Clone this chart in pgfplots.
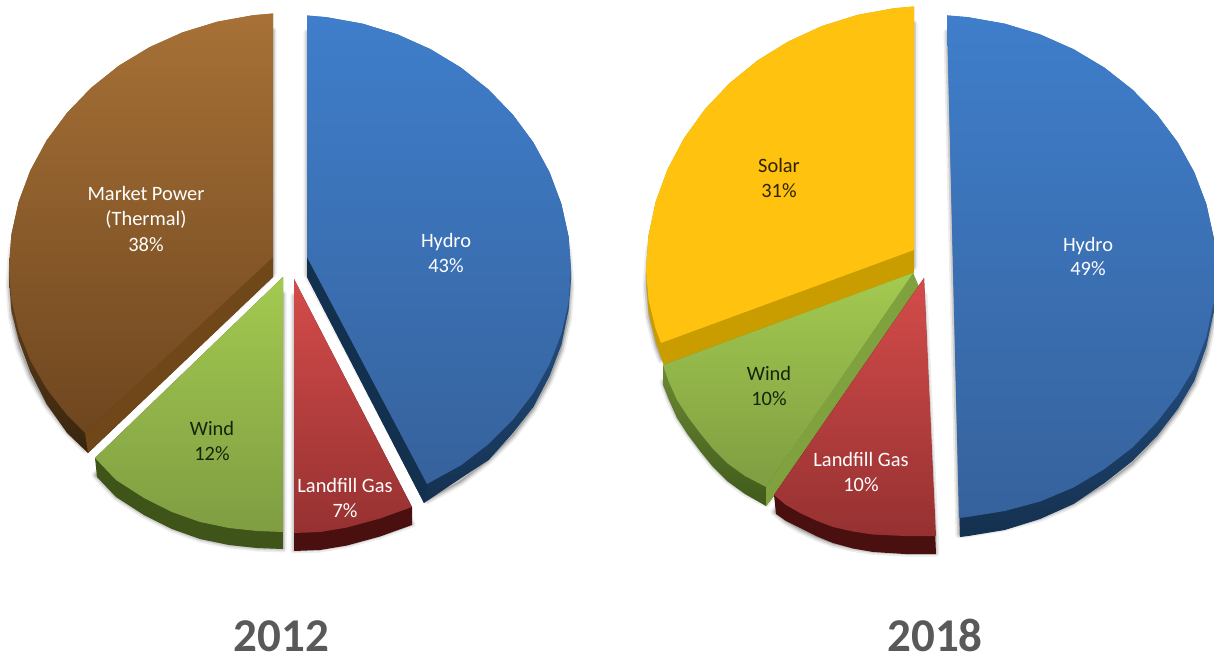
\documentclass[border=0pt]{standalone}
\usepackage{fontspec}
\setmainfont{Carlito}
\usepackage{pgfplots}
\usepackage{pgfplotstable}
\pgfplotsset{compat=1.18}

% colours
\definecolor{bluetop}{HTML}{3F7ECB}
\definecolor{bluebot}{HTML}{36629C}
\definecolor{bluemid}{HTML}{16335A}
\definecolor{bluedark}{HTML}{14304F}
\definecolor{browntop}{HTML}{A77136}
\definecolor{brownbot}{HTML}{6E461F}
\definecolor{brownmid}{HTML}{5F3D17}
\definecolor{brownside}{HTML}{6F4718}
\definecolor{browndark}{HTML}{38240E}
\definecolor{greentop}{HTML}{A3CA50}
\definecolor{greenbot}{HTML}{7F9D42}
\definecolor{greendark}{HTML}{3E5418}
\definecolor{redtop}{HTML}{D44C4A}
\definecolor{redbot}{HTML}{963131}
\definecolor{reddark}{HTML}{4A0F0F}
\definecolor{solar}{HTML}{FFC20E}
\definecolor{solarside}{HTML}{C99C00}
\definecolor{windside}{HTML}{7FA23F}
\definecolor{windup}{HTML}{8AA844}
\definecolor{winddown}{HTML}{3F5A1A}
\definecolor{titlegray}{HTML}{595959}
\definecolor{darkgreentext}{HTML}{16240A}
\definecolor{darksolartext}{HTML}{2E2400}

% slice outlines in picture pixels: face = top surface, body = whole silhouette
\pgfplotstableread[row sep=\\]{x y\\ 307 15.5\\ 326.7 17.2\\ 362.7 23.7\\ 397.5 34.4\\ 430.5 49.2\\ 461.1 67.7\\ 488.7 89.7\\ 512.9 114.8\\ 533.4 142.5\\ 549.6 172.4\\ 561.4 204\\ 568.6 236.7\\ 571 270\\ 568.6 302.1\\ 561.4 333.7\\ 549.6 364.1\\ 533.4 393\\ 512.9 419.8\\ 488.7 444\\ 461.1 465.2\\ 427 484\\ 307 257\\}\hydroAface
\pgfplotstableread[row sep=\\]{x y\\ 307 15.5\\ 326.7 17.2\\ 362.7 23.7\\ 397.5 34.4\\ 430.5 49.2\\ 461.1 67.7\\ 488.7 89.7\\ 512.9 114.8\\ 533.4 142.5\\ 549.6 172.4\\ 561.4 204\\ 568.6 236.7\\ 571 270\\ 571 280\\ 568.6 310\\ 561.4 345\\ 549.6 376\\ 533.4 407\\ 512.9 433\\ 488.7 460\\ 461.1 478\\ 424 503\\ 307 277\\}\hydroAbody
\pgfplotstableread[row sep=\\]{x y\\ 307 257\\ 427 484\\ 424 503\\ 307 277\\}\hydroAside

\pgfplotstableread[row sep=\\]{x y\\ 273 13.5\\ 253.3 15.2\\ 217.3 21.7\\ 182.5 32.4\\ 149.5 47.2\\ 118.9 65.7\\ 91.3 87.7\\ 67.1 112.8\\ 46.6 140.5\\ 30.4 170.4\\ 18.6 202\\ 11.4 234.7\\ 9 268\\ 11.4 299.5\\ 18.6 330.5\\ 30.4 360.5\\ 46.6 388.8\\ 67.1 415\\ 85 433\\ 273 257\\}\thermAface
\pgfplotstableread[row sep=\\]{x y\\ 273 13.5\\ 253.3 15.2\\ 217.3 21.7\\ 182.5 32.4\\ 149.5 47.2\\ 118.9 65.7\\ 91.3 87.7\\ 67.1 112.8\\ 46.6 140.5\\ 30.4 170.4\\ 18.6 202\\ 11.4 234.7\\ 9 268\\ 9.5 285\\ 11.4 311\\ 18.6 340\\ 30.4 372\\ 46.6 404\\ 67.1 433\\ 88 453\\ 273 277\\}\thermAbody
\pgfplotstableread[row sep=\\]{x y\\ 273 257\\ 85 433\\ 88 453\\ 273 277\\}\thermAside

\pgfplotstableread[row sep=\\]{x y\\ 283 277\\ 95 458\\ 116 480\\ 144 498\\ 172 512\\ 200 522\\ 229 528\\ 257 531\\ 283 532\\}\windAface
\pgfplotstableread[row sep=\\]{x y\\ 283 277\\ 95 458\\ 97 477\\ 116 497\\ 144 515\\ 172 529\\ 200 539\\ 229 545\\ 257 548\\ 283 549\\}\windAbody

\pgfplotstableread[row sep=\\]{x y\\ 294 279\\ 412 507\\ 380 518.5\\ 347 527.5\\ 320 532\\ 294 533\\}\gasAface
\pgfplotstableread[row sep=\\]{x y\\ 294 279\\ 412 507\\ 412 525\\ 380 536.5\\ 347 545.5\\ 320 550\\ 294 551\\}\gasAbody

\pgfplotstableread[row sep=\\]{x y\\ 914 6.5\\ 893.8 8.3\\ 857.2 15\\ 821.9 26.1\\ 788.5 41.4\\ 757.5 60.5\\ 729.5 83.3\\ 704.9 109.3\\ 684.2 138\\ 667.7 169\\ 655.7 201.7\\ 648.5 235.5\\ 646 270\\ 648.5 299.8\\ 655.7 329\\ 661 343\\ 914 250\\}\solarBface
\pgfplotstableread[row sep=\\]{x y\\ 914 6.5\\ 893.8 8.3\\ 857.2 15\\ 821.9 26.1\\ 788.5 41.4\\ 757.5 60.5\\ 729.5 83.3\\ 704.9 109.3\\ 684.2 138\\ 667.7 169\\ 655.7 201.7\\ 648.5 235.5\\ 646 270\\ 646.5 285\\ 648.5 312\\ 655.7 342\\ 664 366\\ 914 273\\}\solarBbody
\pgfplotstableread[row sep=\\]{x y\\ 914 250\\ 661 343\\ 664 366\\ 914 273\\}\solarBside

\pgfplotstableread[row sep=\\]{x y\\ 913 273\\ 663 365\\ 668.5 381\\ 677 400\\ 688 417\\ 700 433\\ 713 449\\ 727 463\\ 745 476\\ 766 487\\}\windBface
\pgfplotstableread[row sep=\\]{x y\\ 913 273\\ 663 365\\ 663 385\\ 668.5 399\\ 677 418\\ 688 435\\ 700 451\\ 713 467\\ 727 481\\ 745 494\\ 766 506\\ 777 492\\ 919 287\\}\windBbody
\pgfplotstableread[row sep=\\]{x y\\ 913 273\\ 766 487\\ 766 506\\ 777 492\\ 919 287\\}\windBside

\pgfplotstableread[row sep=\\]{x y\\ 924 278\\ 774 495\\ 786 505\\ 800 513\\ 816 520.5\\ 833 527\\ 853 531.5\\ 873 534.5\\ 905 536\\ 936 536\\}\gasBface
\pgfplotstableread[row sep=\\]{x y\\ 924 278\\ 774 495\\ 776 514\\ 786 521\\ 800 528\\ 816 536\\ 833 543\\ 853 548.5\\ 873 552\\ 905 554\\ 936 554\\}\gasBbody

\pgfplotstableread[row sep=\\]{x y\\ 947 15.4\\ 968.2 17.2\\ 1004.8 23.7\\ 1040.1 34.4\\ 1073.5 49.2\\ 1104.5 67.7\\ 1132.5 89.7\\ 1157.1 114.8\\ 1177.8 142.5\\ 1194.3 172.4\\ 1206.3 204\\ 1213.5 236.7\\ 1216 270\\ 1213.5 303\\ 1206.3 337\\ 1194.3 368\\ 1177.8 395\\ 1157.1 422\\ 1132.5 447.5\\ 1104.5 469\\ 1073.5 487.5\\ 1040.1 501.5\\ 1004.8 511\\ 968.2 516.9\\ 959 518\\}\hydroBface
\pgfplotstableread[row sep=\\]{x y\\ 947 15.4\\ 968.2 17.2\\ 1004.8 23.7\\ 1040.1 34.4\\ 1073.5 49.2\\ 1104.5 67.7\\ 1132.5 89.7\\ 1157.1 114.8\\ 1177.8 142.5\\ 1194.3 172.4\\ 1206.3 204\\ 1213.5 236.7\\ 1216 270\\ 1216 280\\ 1213.5 313\\ 1206.3 347\\ 1194.3 381\\ 1177.8 409\\ 1157.1 436\\ 1132.5 461\\ 1104.5 483\\ 1073.5 504\\ 1040.1 519\\ 1004.8 530\\ 968.2 536\\ 960 537\\}\hydroBbody

% soft shadow: the face pushed down under the slice, in wide translucent strokes
\newcommand{\softshadow}[1]{%
  \addplot[fill=black, draw=black, opacity=0.07, line width=7pt, line join=round] table[x=x,y expr=\thisrow{y}+17]{#1} --cycle;
  \addplot[fill=black, draw=black, opacity=0.12, line width=3.5pt, line join=round] table[x=x,y expr=\thisrow{y}+17]{#1} --cycle;
}
\newcommand{\lab}[4]{\node[anchor=base, text=#3, font=\fontsize{20.4}{20.4}\selectfont, inner sep=0pt] at (axis cs:#1,#2+7) {#4};}

\begin{document}
\begin{tikzpicture}
\begin{axis}[
    width=1214pt, height=658pt, scale only axis,
    xmin=0, xmax=1214, ymin=0, ymax=658,
    y dir=reverse,
    hide axis,
]
% 2012
\softshadow{\hydroAface}
\softshadow{\thermAface}
\softshadow{\windAface}
\softshadow{\gasAface}
\addplot[draw=none, top color=bluetop, middle color=bluemid, bottom color=bluedark] table[x=x,y=y]{\hydroAbody} --cycle;
\addplot[draw=none, fill=bluedark] table[x=x,y=y]{\hydroAside} --cycle;
\addplot[draw=none, top color=bluetop, bottom color=bluebot] table[x=x,y=y]{\hydroAface} --cycle;

\addplot[draw=none, top color=browntop, middle color=brownmid, bottom color=browndark] table[x=x,y=y]{\thermAbody} --cycle;
\addplot[draw=none, fill=brownside] table[x=x,y=y]{\thermAside} --cycle;
\addplot[draw=none, top color=browntop, bottom color=brownbot] table[x=x,y=y]{\thermAface} --cycle;

\addplot[draw=none, fill=greendark] table[x=x,y=y]{\windAbody} --cycle;
\addplot[draw=none, top color=greentop, bottom color=greenbot] table[x=x,y=y]{\windAface} --cycle;

\addplot[draw=none, fill=reddark] table[x=x,y=y]{\gasAbody} --cycle;
\addplot[draw=none, top color=redtop, bottom color=redbot] table[x=x,y=y]{\gasAface} --cycle;

% 2018
\softshadow{\hydroBface}
\softshadow{\solarBface}
\softshadow{\windBface}
\softshadow{\gasBface}
\addplot[draw=none, fill=solarside] table[x=x,y=y]{\solarBbody} --cycle;
\addplot[draw=none, fill=solar] table[x=x,y=y]{\solarBface} --cycle;

\addplot[draw=none, top color=windup, bottom color=winddown] table[x=x,y=y]{\windBbody} --cycle;
\addplot[draw=none, fill=windside] table[x=x,y=y]{\windBside} --cycle;
\addplot[draw=none, top color=greentop, bottom color=greenbot] table[x=x,y=y]{\windBface} --cycle;

\addplot[draw=none, fill=reddark] table[x=x,y=y]{\gasBbody} --cycle;
\addplot[draw=none, top color=redtop, bottom color=redbot] table[x=x,y=y]{\gasBface} --cycle;

\addplot[draw=none, top color=bluetop, middle color=bluemid, bottom color=bluedark] table[x=x,y=y]{\hydroBbody} --cycle;
\addplot[draw=none, top color=bluetop, bottom color=bluebot] table[x=x,y=y]{\hydroBface} --cycle;

% labels
\lab{446}{240}{white}{Hydro}
\lab{446}{265}{white}{43\%}
\lab{146}{193}{white}{Market Power}
\lab{146}{218}{white}{(Thermal)}
\lab{146}{244}{white}{38\%}
\lab{212}{428}{darkgreentext}{Wind}
\lab{212}{453}{darkgreentext}{12\%}
\lab{345}{485}{white}{Landfill Gas}
\lab{345}{510}{white}{7\%}
\lab{1088}{244}{white}{Hydro}
\lab{1088}{268}{white}{49\%}
\lab{779}{165}{darksolartext}{Solar}
\lab{779}{190}{darksolartext}{31\%}
\lab{769}{373}{darkgreentext}{Wind}
\lab{769}{398}{darkgreentext}{10\%}
\lab{861}{459}{white}{Landfill Gas}
\lab{861}{484}{white}{10\%}
\node[anchor=base, text=titlegray, font=\fontsize{47}{47}\selectfont\bfseries, inner sep=0pt] at (axis cs:281.5,651.5) {2012};
\node[anchor=base, text=titlegray, font=\fontsize{47}{47}\selectfont\bfseries, inner sep=0pt] at (axis cs:935,651.5) {2018};
\end{axis}
\pgfresetboundingbox
\useasboundingbox (current axis.south west) rectangle (current axis.north east);
\end{tikzpicture}
\end{document}
